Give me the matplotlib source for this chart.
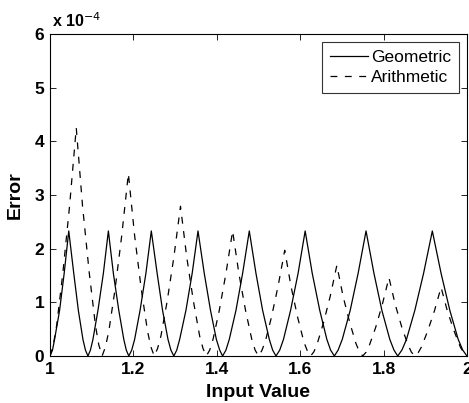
import matplotlib
matplotlib.use("Agg")
import matplotlib.pyplot as plt

plt.rcParams['font.family'] = ['Liberation Sans', 'DejaVu Sans']

# geometric spacing error (units of 1e-4)
geo_x = [1.000, 1.006, 1.011, 1.023, 1.034, 1.045, 1.057, 1.068, 1.079, 1.085,
         1.091, 1.097, 1.103, 1.115, 1.128, 1.140, 1.152, 1.165, 1.177, 1.183,
         1.189, 1.196, 1.203, 1.216, 1.230, 1.243, 1.257, 1.270, 1.283, 1.290,
         1.297, 1.304, 1.311, 1.326, 1.341, 1.355, 1.370, 1.385, 1.399, 1.407,
         1.414, 1.422, 1.430, 1.446, 1.462, 1.478, 1.494, 1.510, 1.526, 1.534,
         1.542, 1.551, 1.560, 1.577, 1.595, 1.612, 1.629, 1.647, 1.664, 1.673,
         1.682, 1.691, 1.701, 1.720, 1.739, 1.758, 1.777, 1.796, 1.815, 1.825,
         1.834, 1.844, 1.855, 1.875, 1.896, 1.917, 1.938, 1.959, 1.979, 1.990,
         2.000]
geo_y = [0, 0.11, 0.31, 0.85, 1.54, 2.33, 1.54, 0.85, 0.31, 0.11,
         0, 0.11, 0.31, 0.85, 1.54, 2.33, 1.54, 0.85, 0.31, 0.11,
         0, 0.11, 0.31, 0.85, 1.54, 2.33, 1.54, 0.85, 0.31, 0.11,
         0, 0.11, 0.31, 0.85, 1.54, 2.33, 1.54, 0.85, 0.31, 0.11,
         0, 0.11, 0.31, 0.85, 1.54, 2.33, 1.54, 0.85, 0.31, 0.11,
         0, 0.11, 0.31, 0.85, 1.54, 2.33, 1.54, 0.85, 0.31, 0.11,
         0, 0.11, 0.31, 0.85, 1.54, 2.33, 1.54, 0.85, 0.31, 0.11,
         0, 0.11, 0.31, 0.85, 1.54, 2.33, 1.54, 0.85, 0.31, 0.11,
         0]

# arithmetic spacing error (units of 1e-4)
ari_x = [1.000, 1.008, 1.016, 1.031, 1.047, 1.063, 1.078, 1.094, 1.109, 1.117,
         1.125, 1.133, 1.141, 1.156, 1.172, 1.188, 1.203, 1.219, 1.234, 1.242,
         1.250, 1.258, 1.266, 1.281, 1.297, 1.313, 1.328, 1.344, 1.359, 1.367,
         1.375, 1.383, 1.391, 1.406, 1.422, 1.438, 1.453, 1.469, 1.484, 1.492,
         1.500, 1.508, 1.516, 1.531, 1.547, 1.563, 1.578, 1.594, 1.609, 1.617,
         1.625, 1.633, 1.641, 1.656, 1.672, 1.688, 1.703, 1.719, 1.734, 1.742,
         1.750, 1.758, 1.766, 1.781, 1.797, 1.813, 1.828, 1.844, 1.859, 1.867,
         1.875, 1.883, 1.891, 1.906, 1.922, 1.938, 1.953, 1.969, 1.984, 1.992,
         2.000]
ari_y = [0, 0.21, 0.57, 1.56, 2.80, 4.25, 2.80, 1.56, 0.57, 0.21,
         0, 0.17, 0.46, 1.24, 2.24, 3.40, 2.24, 1.24, 0.46, 0.17,
         0, 0.14, 0.37, 1.02, 1.84, 2.79, 1.84, 1.02, 0.37, 0.14,
         0, 0.11, 0.31, 0.85, 1.54, 2.33, 1.54, 0.85, 0.31, 0.11,
         0, 0.10, 0.26, 0.72, 1.30, 1.97, 1.30, 0.72, 0.26, 0.10,
         0, 0.08, 0.23, 0.62, 1.11, 1.69, 1.11, 0.62, 0.23, 0.08,
         0, 0.07, 0.20, 0.53, 0.96, 1.46, 0.96, 0.53, 0.20, 0.07,
         0, 0.06, 0.17, 0.47, 0.84, 1.28, 0.84, 0.47, 0.17, 0.06,
         0]

x_ticks = [1, 1.2, 1.4, 1.6, 1.8, 2]
x_labels = ["1", "1.2", "1.4", "1.6", "1.8", "2"]
y_ticks = [0, 1, 2, 3, 4, 5, 6]

fig = plt.figure(figsize=(4.69, 4.03), dpi=100)
ax = fig.add_axes([0.1066, 0.1166, 0.889, 0.799])

ax.plot(geo_x, geo_y, color='black', lw=0.9, label='Geometric')
ax.plot(ari_x, ari_y, color='black', lw=0.9, ls=(0, (5.5, 6)), label='Arithmetic')

ax.set_xlim(1, 2)
ax.set_ylim(0, 6)
ax.set_xticks(x_ticks)
ax.set_xticklabels(x_labels, fontsize=12.5, fontweight='bold')
ax.set_yticks(y_ticks)
ax.set_yticklabels([str(t) for t in y_ticks], fontsize=12.5, fontweight='bold')
ax.tick_params(direction='in', length=4, width=0.6, top=True, right=True, pad=4)
for s in ax.spines.values():
    s.set_linewidth(0.8)

ax.set_xlabel('Input Value', fontsize=14, fontweight='bold', labelpad=5)
ax.set_ylabel('Error', fontsize=14, fontweight='bold', labelpad=8)
ax.text(0.005, 1.012, r'x 10$^{-4}$', transform=ax.transAxes, fontsize=11.5,
        fontweight='bold', ha='left', va='bottom')

leg = ax.legend(loc='upper right', prop={'size': 12.5}, frameon=True, fancybox=False,
                edgecolor='black', handlelength=2.2, borderaxespad=0.45,
                borderpad=0.45, labelspacing=0.3, handletextpad=0.2)
leg.get_frame().set_linewidth(0.8)

fig.savefig('out.png', dpi=100)
